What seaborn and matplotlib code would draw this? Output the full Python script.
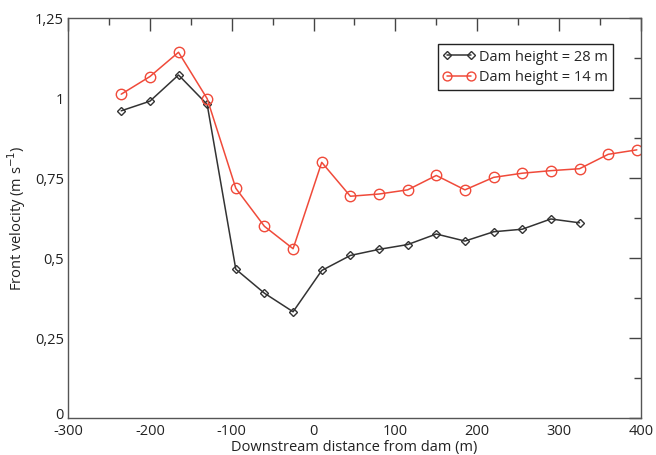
import matplotlib
matplotlib.use("Agg")
import matplotlib.pyplot as plt
import matplotlib.transforms as mtransforms
import seaborn as sns
import numpy as np
from matplotlib.ticker import MultipleLocator, FixedLocator, FixedFormatter

sns.set_theme(style="white")
plt.rcParams['font.family'] = ['Open Sans', 'DejaVu Sans']
plt.rcParams['axes.unicode_minus'] = False

x28 = [-235, -200, -165, -130, -95, -60, -25, 10, 45, 80, 115, 150, 185, 220, 255, 290, 325]
v28 = [0.960, 0.990, 1.072, 0.980, 0.465, 0.390, 0.332, 0.461, 0.508, 0.527, 0.542, 0.575, 0.553, 0.582, 0.590, 0.622, 0.610]

x14 = [-235, -200, -165, -130, -95, -60, -25, 10, 45, 80, 115, 150, 185, 220, 255, 290, 325, 360, 395]
v14 = [1.012, 1.067, 1.143, 0.998, 0.718, 0.599, 0.529, 0.799, 0.693, 0.700, 0.713, 0.758, 0.713, 0.752, 0.765, 0.773, 0.779, 0.824, 0.838]

yticks = [0, 0.25, 0.5, 0.75, 1, 1.25]
ylabels = ["0", "0,25", "0,5", "0,75", "1", "1,25"]
xticks = [-300, -200, -100, 0, 100, 200, 300, 400]

fig = plt.figure(figsize=(6.56, 4.55), dpi=100)
ax = fig.add_axes([0.1037, 0.0813, 0.8733, 0.8791])

black = "#333333"
red = "#f04a3a"

sns.lineplot(x=x28, y=v28, ax=ax, color=black, lw=1.1, marker="D", markersize=4.5,
             markerfacecolor="none", markeredgecolor=black, markeredgewidth=1.0,
             label="Dam height = 28 m")
sns.lineplot(x=x14, y=v14, ax=ax, color=red, lw=1.1, marker="o", markersize=7.5,
             markerfacecolor="none", markeredgecolor=red, markeredgewidth=1.0,
             label="Dam height = 14 m")

ax.set_xlim(-300, 400)
ax.set_ylim(0, 1.25)
ax.xaxis.set_major_locator(FixedLocator(xticks))
ax.xaxis.set_minor_locator(MultipleLocator(50))
ax.yaxis.set_major_locator(FixedLocator(yticks))
ax.yaxis.set_major_formatter(FixedFormatter(ylabels))
ax.yaxis.set_minor_locator(MultipleLocator(0.125))
ax.tick_params(which="both", direction="in", top=True, right=True, colors="#444444",
               labelcolor="#222222", labelsize=10.5, width=1.0)
ax.tick_params(which="major", length=9)
ax.tick_params(which="minor", length=5)
ax.tick_params(axis="x", pad=4)
ax.tick_params(axis="y", pad=3)
for s in ax.spines.values():
    s.set_color("#555555")
    s.set_linewidth(1.0)

# nudge the "0" y label slightly up so it does not collide with "-300"
fig.canvas.draw()
ylab0 = ax.get_yticklabels()[0]
ylab0.set_transform(ylab0.get_transform() + mtransforms.ScaledTranslation(0, 3/72, fig.dpi_scale_trans))

ax.set_xlabel("Downstream distance from dam (m)", fontsize=10.5, labelpad=1, color="#222222")
ax.set_ylabel("Front velocity (m s$^{-1}$)", fontsize=10.5, labelpad=5, color="#222222")

leg = ax.legend(loc="upper right", bbox_to_anchor=(0.952, 0.934), fancybox=False,
                edgecolor="#222222", framealpha=1, fontsize=10.5, handlelength=2.2,
                numpoints=2, handletextpad=0.3, borderpad=0.35, labelspacing=0.35,
                borderaxespad=0, markerscale=0.85)
leg.get_frame().set_linewidth(1.0)

fig.savefig("out.png", dpi=100)
